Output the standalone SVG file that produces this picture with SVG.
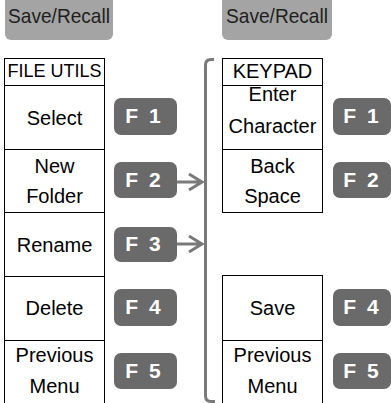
<svg xmlns="http://www.w3.org/2000/svg" width="391" height="403" viewBox="0 0 391 403">
<style>
.hdr{fill:#a4a4a4}
.hdrt{font-family:"Liberation Sans",Arial,sans-serif;font-size:21px;fill:#1e1e1e;text-anchor:middle}
.box{fill:#fff;stroke:#000;stroke-width:1}
.t{font-family:"Liberation Sans",Arial,sans-serif;font-size:20px;fill:#000;text-anchor:middle}
.ht{font-family:"Liberation Sans",Arial,sans-serif;font-size:18px;fill:#000;text-anchor:middle}
.fk{fill:#6a6a6a}
.fkt{font-family:"Liberation Sans",Arial,sans-serif;font-size:21px;font-weight:bold;fill:#fff;text-anchor:middle;word-spacing:5px}
.conn{fill:none;stroke:#7a7a7a;stroke-width:3}
</style>
<g id="saverecall-left">
<rect class="hdr" x="5" y="-10" width="108" height="50" rx="6"/>
<text class="hdrt" x="59" y="23" textLength="102" lengthAdjust="spacingAndGlyphs">Save/Recall</text>
</g>
<g id="saverecall-right">
<rect class="hdr" x="222" y="-10" width="110" height="50" rx="6"/>
<text class="hdrt" x="277" y="23" textLength="102" lengthAdjust="spacingAndGlyphs">Save/Recall</text>
</g>
<g id="file-utils">
<rect class="box" x="4.5" y="58.5" width="100" height="360"/>
<line class="box" x1="4.5" y1="85.5" x2="104.5" y2="85.5"/>
<line class="box" x1="4.5" y1="149.5" x2="104.5" y2="149.5"/>
<line class="box" x1="4.5" y1="212.5" x2="104.5" y2="212.5"/>
<line class="box" x1="4.5" y1="276.5" x2="104.5" y2="276.5"/>
<line class="box" x1="4.5" y1="340.5" x2="104.5" y2="340.5"/>
<text class="ht" x="54.5" y="77">FILE UTILS</text>
<text class="t" x="54.5" y="125">Select</text>
<text class="t" x="54.5" y="173">New</text>
<text class="t" x="54.5" y="203">Folder</text>
<text class="t" x="54.5" y="252">Rename</text>
<text class="t" x="54.5" y="315">Delete</text>
<text class="t" x="54.5" y="362">Previous</text>
<text class="t" x="54.5" y="393">Menu</text>
</g>
<g id="keypad">
<rect class="box" x="222.5" y="58.5" width="100" height="154"/>
<line class="box" x1="222.5" y1="85.5" x2="322.5" y2="85.5"/>
<line class="box" x1="222.5" y1="149.5" x2="322.5" y2="149.5"/>
<text class="t" x="272.5" y="78" font-size="19">KEYPAD</text>
<text class="t" x="272.5" y="101">Enter</text>
<text class="t" x="272.5" y="133">Character</text>
<text class="t" x="272.5" y="173">Back</text>
<text class="t" x="272.5" y="203">Space</text>
</g>
<g id="keypad-lower">
<rect class="box" x="222.5" y="275.5" width="100" height="140"/>
<line class="box" x1="222.5" y1="340.5" x2="322.5" y2="340.5"/>
<text class="t" x="272.5" y="315">Save</text>
<text class="t" x="272.5" y="362">Previous</text>
<text class="t" x="272.5" y="393">Menu</text>
</g>
<g id="f1-left"><rect class="fk" x="114" y="98" width="63" height="37" rx="7"/><text class="fkt" x="143" y="123">F 1</text></g>
<g id="f2-left"><rect class="fk" x="114" y="162" width="63" height="36" rx="7"/><text class="fkt" x="143" y="187">F 2</text></g>
<g id="f3-left"><rect class="fk" x="114" y="227" width="63" height="35" rx="7"/><text class="fkt" x="143" y="251">F 3</text></g>
<g id="f4-left"><rect class="fk" x="114" y="289" width="63" height="37" rx="7"/><text class="fkt" x="143" y="314">F 4</text></g>
<g id="f5-left"><rect class="fk" x="114" y="353" width="63" height="36" rx="7"/><text class="fkt" x="143" y="378">F 5</text></g>
<g id="f1-right"><rect class="fk" x="333" y="98" width="58" height="37" rx="7"/><text class="fkt" x="361" y="123">F 1</text></g>
<g id="f2-right"><rect class="fk" x="333" y="162" width="58" height="36" rx="7"/><text class="fkt" x="361" y="187">F 2</text></g>
<g id="f4-right"><rect class="fk" x="333" y="289" width="58" height="37" rx="7"/><text class="fkt" x="361" y="314">F 4</text></g>
<g id="f5-right"><rect class="fk" x="333" y="353" width="58" height="36" rx="7"/><text class="fkt" x="361" y="378">F 5</text></g>
<g id="connectors">
<path class="conn" d="M214 59.5 H211 Q205.5 59.5 205.5 65 V396 Q205.5 401.5 211 401.5 H215"/>
<path class="conn" d="M177 182 H202 M189 174 L202 182 L189 190"/>
<path class="conn" d="M177 244 H202 M189 236 L202 244 L189 252"/>
</g>
</svg>
